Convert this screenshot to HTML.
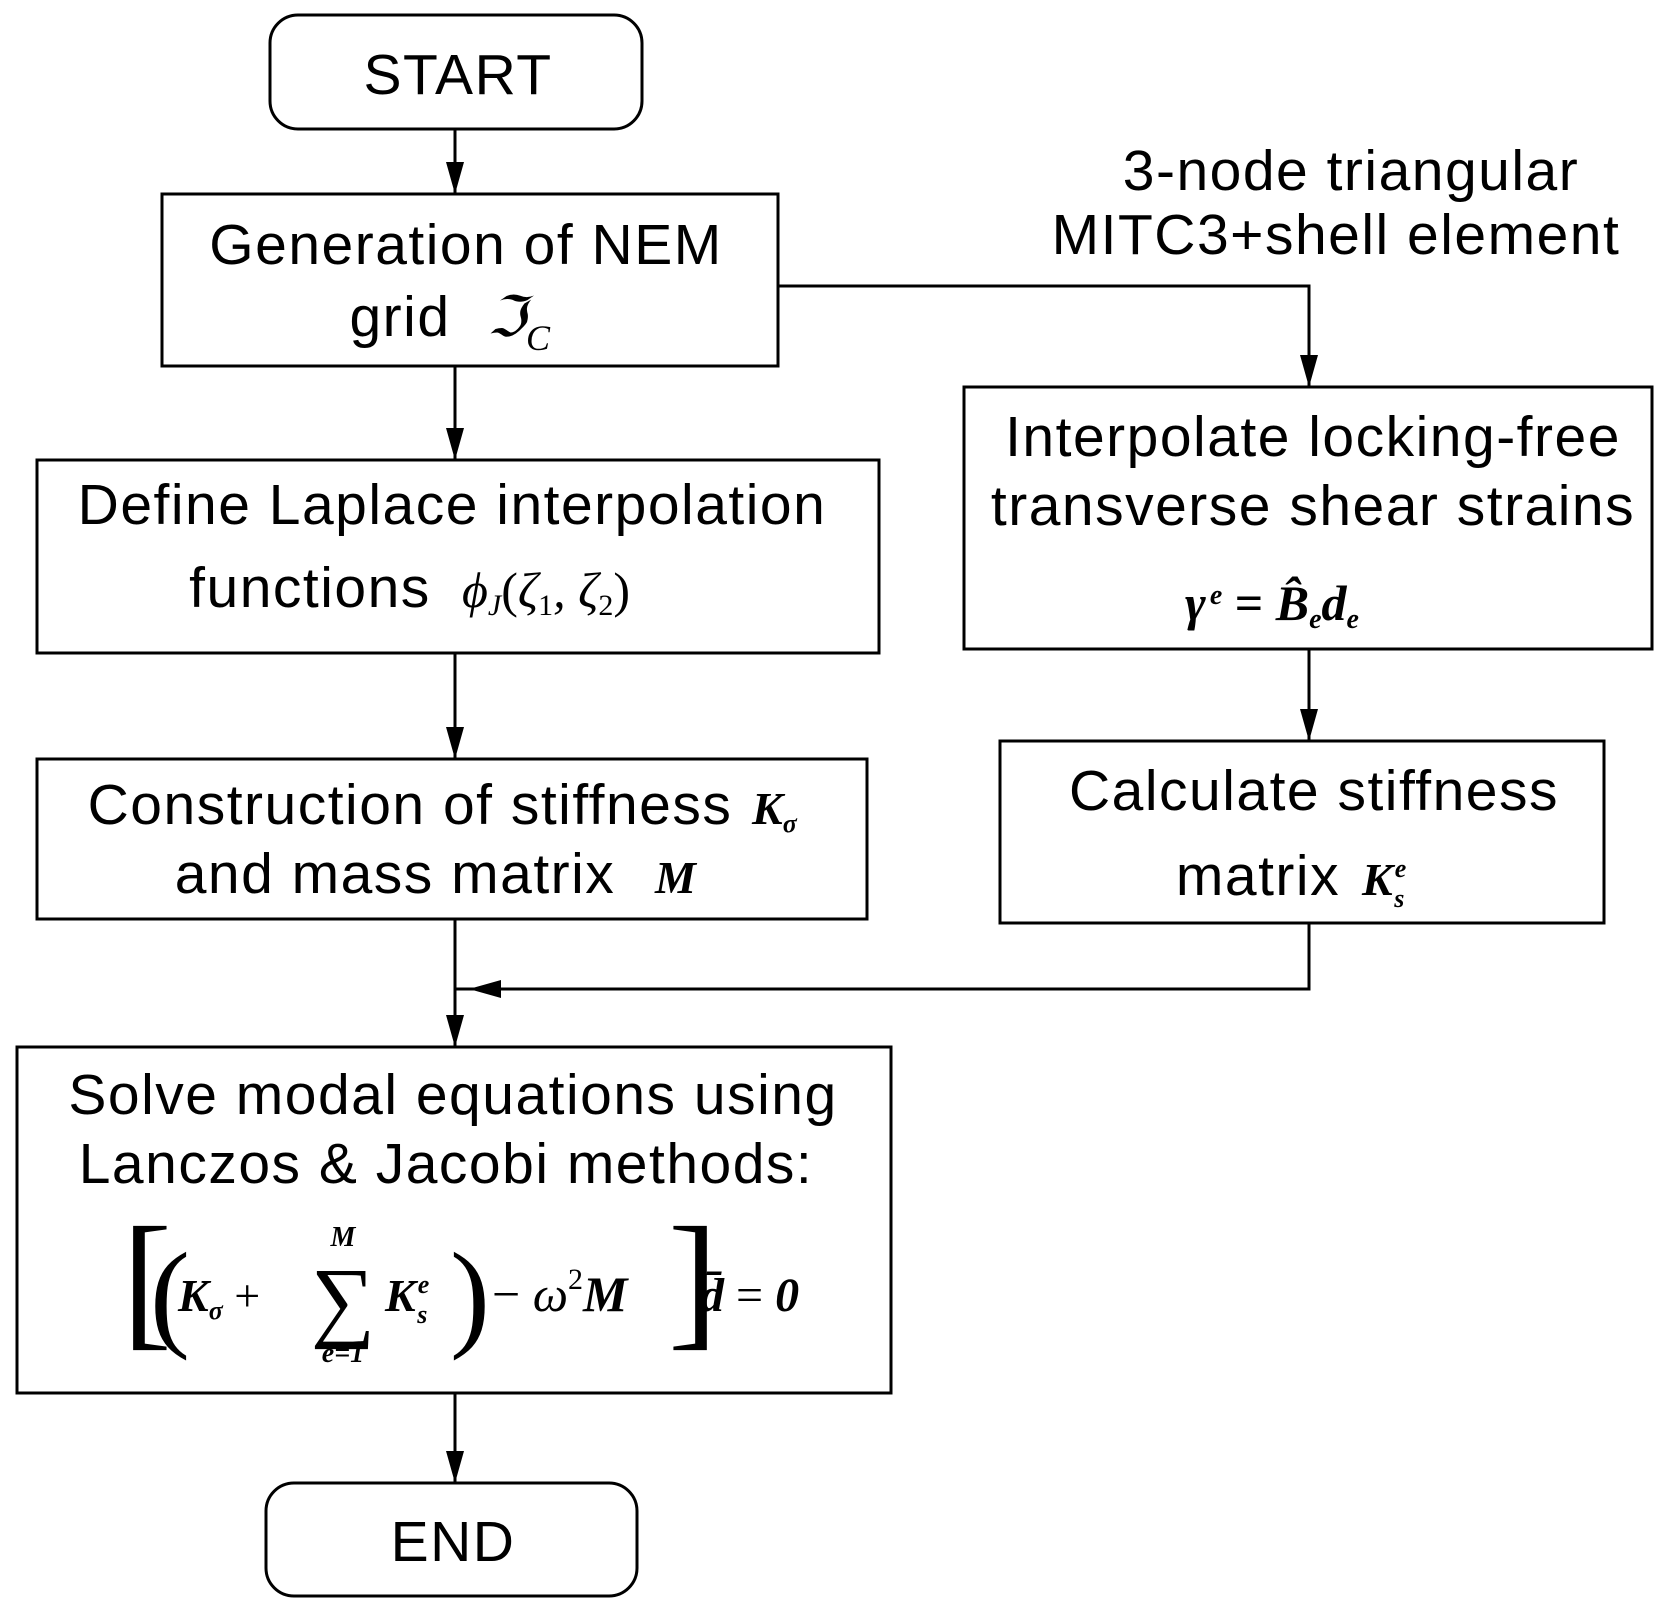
<!DOCTYPE html>
<html><head><meta charset="utf-8"><style>html,body{margin:0;padding:0;background:#fff}svg{display:block}</style></head>
<body>
<svg width="1671" height="1612" viewBox="0 0 1671 1612" xmlns="http://www.w3.org/2000/svg">
<g fill="none" stroke="#000" stroke-width="3">
<rect x="270" y="15" width="372" height="114" rx="28"/>
<rect x="162" y="194" width="616" height="172"/>
<rect x="37" y="460" width="842" height="193"/>
<rect x="37" y="759" width="830" height="160"/>
<rect x="17" y="1047" width="874" height="346"/>
<rect x="266" y="1483" width="371" height="113" rx="28"/>
<rect x="964" y="387" width="688" height="262"/>
<rect x="1000" y="741" width="604" height="182"/>
<path d="M455 129V194M455 366V460M455 653V759M455 919V1047M455 1393V1483"/>
<path d="M778 286H1309V387M1309 649V741M1309 923V989H455"/>
</g>
<g fill="#000">
<path d="M446 162L464 162L455 194Z"/>
<path d="M446 428L464 428L455 460Z"/>
<path d="M446 727L464 727L455 759Z"/>
<path d="M446 1015L464 1015L455 1047Z"/>
<path d="M446 1451L464 1451L455 1483Z"/>
<path d="M1300 355L1318 355L1309 387Z"/>
<path d="M1300 709L1318 709L1309 741Z"/>
<path d="M469 989L501 980L501 998Z"/>
</g>
<g font-family="Liberation Sans, sans-serif" font-size="57" text-anchor="middle" fill="#000" letter-spacing="1.5">
<text x="458" y="94">START</text>
<text x="466" y="264">Generation of NEM</text>
<text x="400" y="336">grid</text>
<text x="452" y="524">Define Laplace interpolation</text>
<text x="310" y="607">functions</text>
<text x="410" y="824">Construction of stiffness</text>
<text x="395" y="893">and mass matrix</text>
<text x="453" y="1114">Solve modal equations using</text>
<text x="446" y="1183">Lanczos &amp; Jacobi methods:</text>
<text x="453" y="1561">END</text>
<text x="1351" y="190">3-node triangular</text>
<text x="1336" y="254">MITC3+shell element</text>
<text x="1313" y="456">Interpolate locking-free</text>
<text x="1313" y="525">transverse shear strains</text>
<text x="1314" y="810">Calculate stiffness</text>
<text x="1258" y="895">matrix</text>
</g>
<g font-family="Liberation Serif, serif" fill="#000">
<text x="487" y="336" font-size="56" font-style="italic">ℑ<tspan font-size="36" dy="14">C</tspan></text>
<text x="462" y="607" font-size="50" font-style="italic">ϕ<tspan font-size="30" dy="8">J</tspan><tspan dy="-8" font-style="normal">(</tspan>ζ<tspan font-size="30" dy="8" font-style="normal">1</tspan><tspan dy="-8">, ζ</tspan><tspan font-size="30" dy="8" font-style="normal">2</tspan><tspan dy="-8" font-style="normal">)</tspan></text>
<text x="752" y="824" font-size="46" font-style="italic" font-weight="bold">K<tspan font-size="26" dy="8">σ</tspan></text>
<text x="655" y="893" font-size="46" font-style="italic" font-weight="bold">M</text>
<text x="1185" y="620" font-size="50" font-style="italic" font-weight="bold">γ<tspan font-size="28" dx="4" dy="-16">e</tspan><tspan dy="16" font-style="normal"> = </tspan>B̂<tspan font-size="28" dy="8">e</tspan><tspan dy="-8">d</tspan><tspan font-size="28" dy="8">e</tspan></text>
<text x="1362" y="895" font-size="46" font-style="italic" font-weight="bold">K<tspan font-size="26" dx="2" dy="-18">e</tspan><tspan font-size="26" dx="-12" dy="30">s</tspan></text>
<text x="122" y="1330" font-size="150">[</text>
<text x="150" y="1335" font-size="120">(</text>
<text x="178" y="1311" font-size="46" font-style="italic" font-weight="bold">K<tspan font-size="26" dy="8">σ</tspan><tspan dy="-8" font-style="normal" font-weight="normal"> +</tspan></text>
<text x="343" y="1330" font-size="90" text-anchor="middle">∑</text>
<text x="343" y="1246" font-size="28" font-style="italic" font-weight="bold" text-anchor="middle">M</text>
<text x="343" y="1362" font-size="28" font-style="italic" font-weight="bold" text-anchor="middle">e=1</text>
<text x="385" y="1311" font-size="46" font-style="italic" font-weight="bold">K<tspan font-size="26" dx="2" dy="-18">e</tspan><tspan font-size="26" dx="-12" dy="30">s</tspan></text>
<text x="450" y="1335" font-size="120">)</text>
<text x="492" y="1311" font-size="50">− <tspan font-style="italic">ω</tspan><tspan font-size="30" dy="-22">2</tspan><tspan dy="22" font-style="italic" font-weight="bold">M</tspan></text>
<text x="668" y="1330" font-size="150">]</text>
<text x="700" y="1311" font-size="48" font-style="italic" font-weight="bold">d̄ <tspan font-style="normal" font-weight="normal">=</tspan> 0</text>
</g>
</svg>
</body></html>
